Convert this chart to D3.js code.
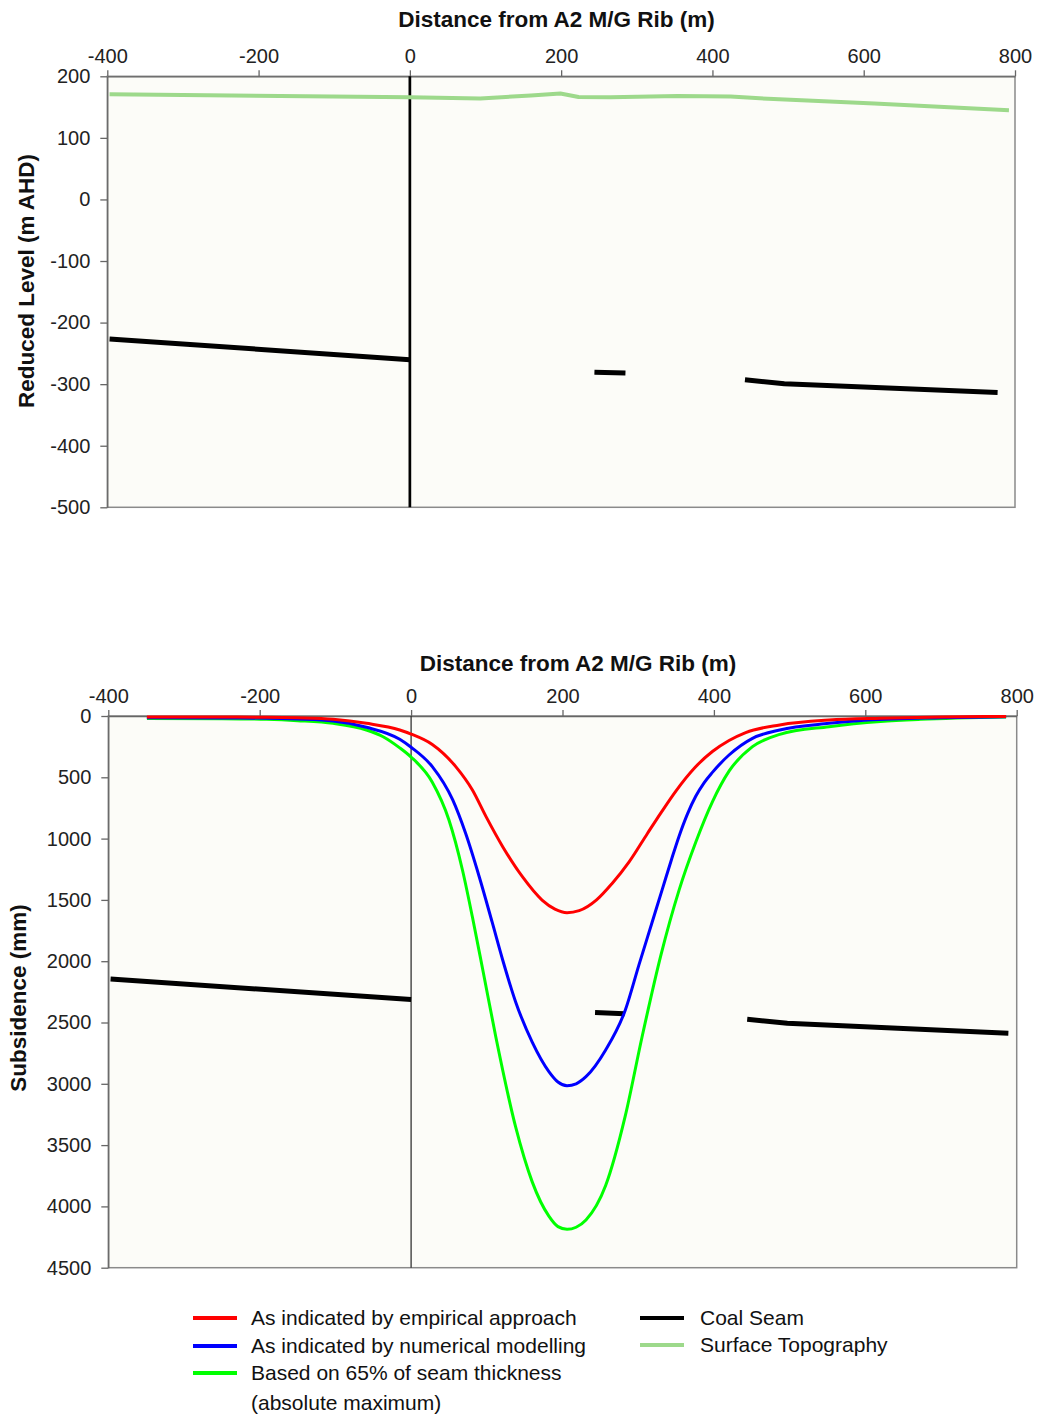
<!DOCTYPE html>
<html><head><meta charset="utf-8">
<script src="https://cdn.jsdelivr.net/npm/d3@7"></script>
<style>
body{margin:0;background:#fff;}
svg{display:block;font-family:"Liberation Sans",Arial,sans-serif;}
</style></head>
<body>
<svg id="chart" width="1040" height="1416"></svg>
<script>
// ---------- data ----------
const xTicks = [-400, -200, 0, 200, 400, 600, 800];
const rlTicks = [200, 100, 0, -100, -200, -300, -400, -500];
const subsTicks = [0, 500, 1000, 1500, 2000, 2500, 3000, 3500, 4000, 4500];

// Surface topography (distance m, RL m AHD)
const topography = [[-397,171],[0,166],[93,164],[160,169],[199,172],[223,166.5],[265,166],[354,168],[424,167],[481,163],[614,156],[792,145]];

// Coal seam in RL (m AHD), three pieces
const seamRL1 = [[-397,-226.5],[0,-260.5]];
const seamRL2 = [[244,-280.5],[285,-282]];
const seamRL3 = [[443,-293],[495,-299.5],[777,-313.5]];

// Coal seam drawn on subsidence panel (mm axis)
const seamSub1 = [[-397,2145],[0,2312]];
const seamSub2 = [[243,2418],[282,2428]];
const seamSub3 = [[444,2474],[497,2506],[789,2588]];

// Subsidence profiles (distance m, subsidence mm)
const empirical = [[-349,8],[-250,8],[-191,10],[-150,15],[-103,27],[-59,60],[-15,114],[0,147],[28,232],[59,413],[81,604],[99,821],[121,1066],[147,1311],[173,1501],[190,1575],[206,1604],[222,1588],[245,1500],[265,1370],[288,1190],[312,960],[330,790],[350,610],[375,420],[398,290],[420,200],[442,135],[487,73],[552,33],[620,18],[700,8],[786,4]];
const numerical = [[-349,15],[-250,16],[-191,18],[-150,25],[-103,41],[-59,92],[-15,190],[0,255],[28,413],[55,685],[72,957],[90,1311],[107,1680],[121,1990],[138,2330],[160,2660],[182,2900],[194,2985],[206,3015],[218,3000],[231,2942],[257,2724],[283,2398],[301,2030],[318,1690],[332,1410],[344,1170],[354,980],[365,800],[376,655],[387,545],[398,460],[420,318],[451,182],[487,114],[552,60],[603,33],[700,14],[786,6]];
const seam65 = [[-349,20],[-250,22],[-191,27],[-150,38],[-103,60],[-59,114],[-37,169],[-15,260],[0,335],[28,540],[50,848],[68,1260],[81,1640],[95,2080],[112,2620],[138,3350],[160,3800],[182,4080],[194,4165],[206,4187],[218,4170],[231,4111],[257,3830],[283,3260],[305,2620],[330,1950],[354,1420],[376,1030],[398,700],[420,450],[451,250],[487,150],[552,87],[620,45],[673,27],[786,8]];

const legendLeft = [
  {label:"As indicated by empirical approach", color:"#ff0000"},
  {label:"As indicated by numerical modelling", color:"#0000ff"},
  {label:"Based on 65% of seam thickness", color:"#00ff00"}
];
const legendRight = [
  {label:"Coal Seam", color:"#000000"},
  {label:"Surface Topography", color:"#9dd98b"}
];

// ---------- drawing ----------
const svg = d3.select("#chart");
const AX = "#666";
const PLOTBG = "#fcfcf8";

function styleAxis(g){
  g.select(".domain").attr("stroke", AX).attr("stroke-width", 1.3);
  g.selectAll(".tick line").attr("stroke", AX).attr("stroke-width", 1.3);
  g.selectAll(".tick text").attr("fill", "#222").style("font-size", "20px");
}

function panel(opts){
  const x = d3.scaleLinear().domain([-400, 800]).range([opts.x0, opts.x1]);
  const y = d3.scaleLinear().domain(opts.yDomain).range([opts.y0, opts.y1]);
  const g = svg.append("g");
  g.append("rect").attr("x", opts.x0).attr("y", opts.y0)
    .attr("width", opts.x1 - opts.x0).attr("height", opts.y1 - opts.y0)
    .attr("fill", PLOTBG).attr("stroke", "#8a8a8a").attr("stroke-width", 1.5);
  const fmt = d => String(d);
  const xa = g.append("g").attr("transform", `translate(0,${opts.y0})`)
    .call(d3.axisTop(x).tickValues(xTicks).tickSize(6).tickSizeOuter(0).tickPadding(7).tickFormat(fmt));
  styleAxis(xa);
  const ya = g.append("g").attr("transform", `translate(${opts.x0},0)`)
    .call(d3.axisLeft(y).tickValues(opts.yTicks).tickSize(7).tickSizeOuter(0).tickPadding(10).tickFormat(fmt));
  styleAxis(ya);
  g.append("text").attr("x", opts.titleX).attr("y", opts.titleY)
    .attr("text-anchor", "middle").style("font-weight", "bold").style("font-size", "22.5px")
    .attr("fill", "#111").text("Distance from A2 M/G Rib (m)");
  g.append("text").attr("transform", `translate(${opts.ytX},${opts.ytY}) rotate(-90)`)
    .attr("text-anchor", "middle").style("font-weight", "bold").style("font-size", "22.5px")
    .attr("fill", "#111").text(opts.yTitle);
  return {x, y, g};
}

const topPanel = panel({x0:107.3, x1:1015, y0:76.3, y1:507.3, yDomain:[200,-500], yTicks:rlTicks,
  titleX:556.5, titleY:26.5, ytX:34, ytY:281, yTitle:"Reduced Level (m AHD)"});
const botPanel = panel({x0:108.3, x1:1016.7, y0:716, y1:1267.7, yDomain:[0,4500], yTicks:subsTicks,
  titleX:578, titleY:670.5, ytX:26, ytY:998, yTitle:"Subsidence (mm)"});

function drawLine(p, data, color, width, curve){
  const line = d3.line().x(d => p.x(d[0])).y(d => p.y(d[1])).curve(curve || d3.curveLinear);
  p.g.append("path").datum(data).attr("d", line).attr("fill", "none")
    .attr("stroke", color).attr("stroke-width", width).attr("stroke-linejoin", "round");
}

// top panel
topPanel.g.append("line").attr("x1", topPanel.x(0)).attr("x2", topPanel.x(0)).attr("y1", topPanel.y(200)).attr("y2", topPanel.y(-500))
  .attr("stroke", "#000").attr("stroke-width", 2.7);
drawLine(topPanel, topography, "#9dd98b", 4);
[seamRL1, seamRL2, seamRL3].forEach(s => drawLine(topPanel, s, "#000", 5));

// bottom panel
botPanel.g.append("line").attr("x1", botPanel.x(0)).attr("x2", botPanel.x(0)).attr("y1", botPanel.y(0)).attr("y2", botPanel.y(4500))
  .attr("stroke", "#333").attr("stroke-width", 1.3);
[seamSub1, seamSub2, seamSub3].forEach(s => drawLine(botPanel, s, "#000", 5));
const smooth = d3.curveMonotoneX;
drawLine(botPanel, seam65, "#00ff00", 3, smooth);
drawLine(botPanel, numerical, "#0000ff", 3, smooth);
drawLine(botPanel, empirical, "#ff0000", 3, smooth);

// legend
const lg = svg.append("g").style("font-size", "21px").attr("fill", "#111");
const rowY = [1318, 1346, 1373];
legendLeft.forEach((d, i) => {
  lg.append("line").attr("x1", 193).attr("x2", 237).attr("y1", rowY[i]).attr("y2", rowY[i])
    .attr("stroke", d.color).attr("stroke-width", 4);
  lg.append("text").attr("x", 251).attr("y", rowY[i] + 7).text(d.label);
});
lg.append("text").attr("x", 251).attr("y", 1403 + 7).text("(absolute maximum)");
legendRight.forEach((d, i) => {
  lg.append("line").attr("x1", 640).attr("x2", 684).attr("y1", rowY[i] - i).attr("y2", rowY[i] - i)
    .attr("stroke", d.color).attr("stroke-width", 4);
  lg.append("text").attr("x", 700).attr("y", rowY[i] - i + 7).text(d.label);
});
</script>
</body></html>
